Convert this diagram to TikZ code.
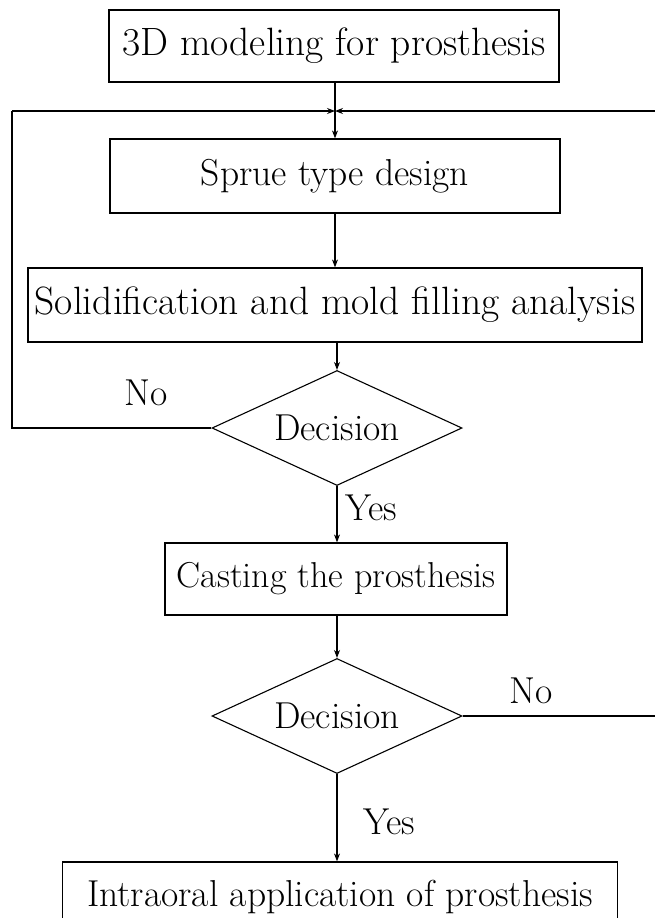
\documentclass[tikz,border=0pt]{standalone}
\usepackage{fontspec}
\usetikzlibrary{shapes.geometric,arrows.meta}
\begin{document}
\begin{tikzpicture}[x=1pt,y=-1pt,
  every node/.style={font=\fontsize{37.5}{44}\selectfont},
  bigtext/.style={font=\fontsize{39.5}{46}\selectfont},
  smalltext/.style={font=\fontsize{36}{42}\selectfont},
  procbox/.style={draw,line width=1.2pt,rectangle,inner sep=0pt},
  decbox/.style={draw,line width=1.1pt,diamond,aspect=2.17,inner sep=0pt,minimum width=250pt,minimum height=115pt},
  conn/.style={line width=1.1pt},
  arr/.style={conn,-{Stealth[length=8pt,width=6pt]}},
  lbl/.style={inner sep=0pt}]
\useasboundingbox (0,0) rectangle (655,918);
\clip (0,0) rectangle (655,918);
\node[procbox,bigtext,minimum width=450pt,minimum height=72pt] (b1) at (334,46) {3D modeling for prosthesis};
\node[procbox,minimum width=450pt,minimum height=74pt] (b2) at (335,176) {Sprue type design};
\node[procbox,bigtext,minimum width=614pt,minimum height=74pt] (b3) at (335,305) {Solidification and mold filling analysis};
\node[decbox] (d1) at (337,428) {Decision};
\node[procbox,smalltext,minimum width=342pt,minimum height=72pt] (b4) at (336,579) {Casting the prosthesis};
\node[decbox] (d2) at (337,716) {Decision};
\node[procbox,minimum width=555pt,minimum height=70pt] (b5) at (340,897) {Intraoral application of prosthesis};
\coordinate (j) at (335,111);
\coordinate (ll) at (12,425);
\coordinate (lt) at (12,111);
\coordinate (rr) at (700,714);
\coordinate (rt) at (700,111);
\draw[arr] (b1.south -| j) -- (b2.north -| j);
\draw[arr] (b2.south -| j) -- (b3.north -| j);
\draw[arr] (b3.south -| d1.north) -- (d1.north);
\draw[arr] (d1.south) -- (b4.north -| d1.south);
\draw[arr] (b4.south -| d2.north) -- (d2.north);
\draw[arr] (d2.south) -- (b5.north -| d2.south);
\draw[conn] (d1.west) -- (d1.west -| ll) -- (lt);
\draw[arr] (lt) -- (j);
\draw[conn] (d2.east) -- (d2.east -| rr) -- (rt);
\draw[arr] (rt) -- (j);
\node[lbl] (no1) at (146,393) {No};
\node[lbl] (no2) at (531,691) {No};
\node[lbl] (yes1) at (371,508) {Yes};
\node[lbl] (yes2) at (389,822) {Yes};
\end{tikzpicture}
\end{document}
